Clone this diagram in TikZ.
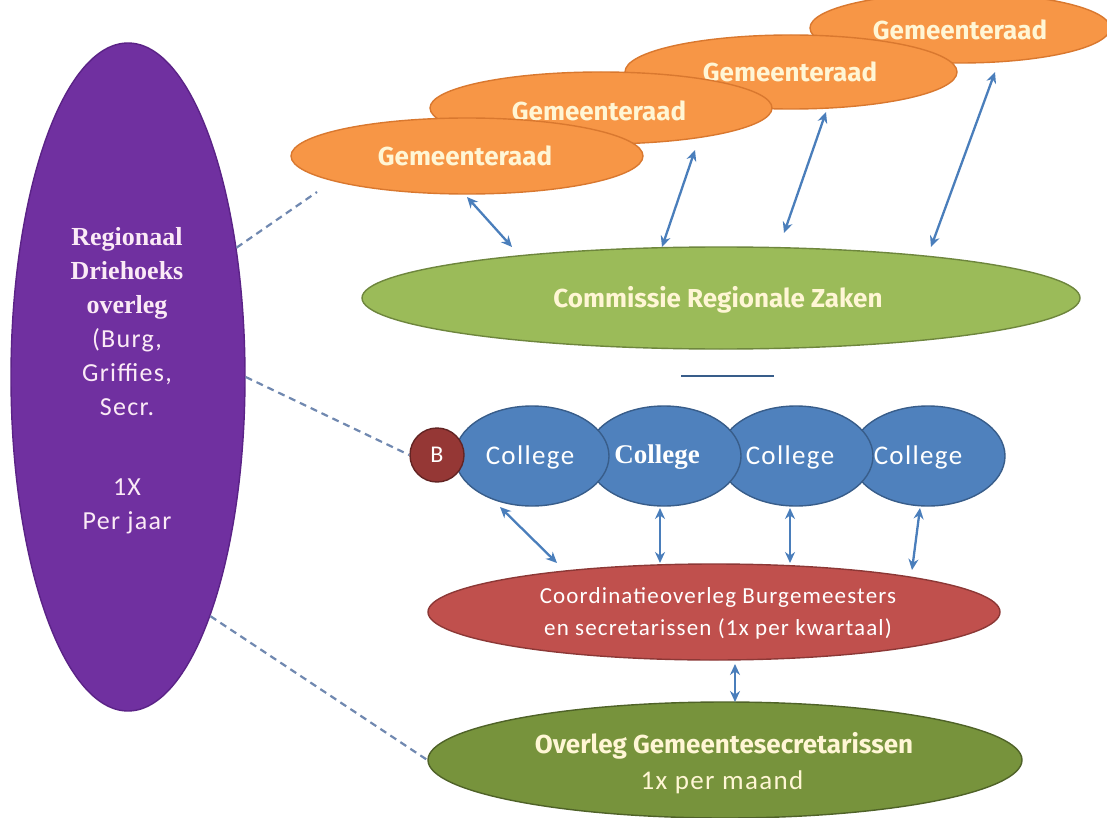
\documentclass[tikz,border=0pt]{standalone}
\usepackage{fontspec}
\setmainfont{Carlito}
\newfontfamily\fira{Fira Sans}
\newfontfamily\serifb{Liberation Serif}
\newfontfamily\carl[LetterSpace=5]{Carlito}
\usetikzlibrary{shapes.geometric,arrows.meta}
\definecolor{purplefill}{HTML}{7030A0}
\definecolor{purpleline}{HTML}{5B2387}
\definecolor{orangefill}{HTML}{F79646}
\definecolor{orangeline}{HTML}{D9782F}
\definecolor{greenfill}{HTML}{9BBB59}
\definecolor{greenline}{HTML}{6E863D}
\definecolor{bluefill}{HTML}{4F81BD}
\definecolor{blueline}{HTML}{385D8A}
\definecolor{redfill}{HTML}{C0504D}
\definecolor{redline}{HTML}{8C3836}
\definecolor{dgreenfill}{HTML}{77933C}
\definecolor{dgreenline}{HTML}{4F6228}
\definecolor{bfill}{HTML}{953735}
\definecolor{bline}{HTML}{632423}
\definecolor{arrowblue}{HTML}{4A7EBB}
\definecolor{dashblue}{HTML}{7088B0}
\definecolor{cream}{HTML}{FFF6D5}
\definecolor{ptext}{HTML}{FBEAF6}
\tikzset{
  oval/.style={ellipse, draw, line width=1.4pt, inner sep=0pt},
  twoway/.style={{Stealth[length=11pt,width=10pt]}-{Stealth[length=11pt,width=10pt]}, draw=arrowblue, line width=2.3pt},
  link/.style={draw=dashblue, dash pattern=on 7pt off 5pt, line width=2.2pt},
  ovaltext/.style={align=center, inner sep=0pt},
}
\begin{document}
\begin{tikzpicture}[x=1pt,y=-1pt]
\useasboundingbox (0,0) rectangle (1107,818);
\clip (0,0) rectangle (1107,818);
\fill[white] (0,0) rectangle (1107,818);

% purple
\node[oval, fill=purplefill, draw=purpleline, minimum width=234pt, minimum height=668pt] (P) at (128,377) {};
\node[ovaltext, text=ptext, font=\fontsize{26}{34}\selectfont] (Pt) at (127,381)
  {{\serifb\bfseries Regionaal}\\{\serifb\bfseries Driehoeks}\\{\serifb\bfseries overleg}\\
   {\carl (Burg,}\\{\carl Griffies,}\\{\carl Secr.}\\[46pt]{\carl 1X}\\{\carl Per jaar}};

% gemeenteraden (back to front)
\node[oval, fill=orangefill, draw=orangeline, minimum width=300pt, minimum height=70pt] (G4) at (960,28) {};
\node[ovaltext, text=cream, font=\fira\bfseries\fontsize{26}{30}\selectfont] (G4t) at (960,30) {Gemeenteraad};
\node[oval, fill=orangefill, draw=orangeline, minimum width=332pt, minimum height=74pt] (G3) at (791,72) {};
\node[ovaltext, text=cream, font=\fira\bfseries\fontsize{26}{30}\selectfont] (G3t) at (790,72) {Gemeenteraad};
\node[oval, fill=orangefill, draw=orangeline, minimum width=342pt, minimum height=72pt] (G2) at (601,108) {};
\node[ovaltext, text=cream, font=\fira\bfseries\fontsize{26}{30}\selectfont] (G2t) at (599,111) {Gemeenteraad};
\node[oval, fill=orangefill, draw=orangeline, minimum width=352pt, minimum height=76pt] (G1) at (467,156) {};
\node[ovaltext, text=cream, font=\fira\bfseries\fontsize{26}{30}\selectfont] (G1t) at (465,156) {Gemeenteraad};

% commissie
\node[oval, fill=greenfill, draw=greenline, minimum width=718pt, minimum height=102pt] (CRZ) at (721,298) {};
\node[ovaltext, text=cream, font=\fira\bfseries\fontsize{26}{30}\selectfont] (CRZt) at (718,300) {Commissie Regionale Zaken};

% short line
\coordinate (l1) at (681,376);
\coordinate (l2) at (774,376);
\draw[draw=blueline, line width=1.8pt] (l1) -- (l2);

% colleges (right to left, C1 on top)
\node[oval, fill=bluefill, draw=blueline, minimum width=154pt, minimum height=100pt] (C4) at (928,456) {};
\node[oval, fill=bluefill, draw=blueline, minimum width=154pt, minimum height=100pt] (C3) at (796,456) {};
\node[oval, fill=bluefill, draw=blueline, minimum width=154pt, minimum height=100pt] (C2) at (664,456) {};
\node[oval, fill=bluefill, draw=blueline, minimum width=154pt, minimum height=100pt] (C1) at (532,456) {};
\node[ovaltext, text=white, font=\carl\fontsize{27}{30}\selectfont] (C1t) at (530,457) {College};
\node[ovaltext, text=white, font=\serifb\bfseries\fontsize{27}{30}\selectfont] (C2t) at (657,457) {College};
\node[ovaltext, text=white, font=\carl\fontsize{27}{30}\selectfont] (C3t) at (790,457) {College};
\node[ovaltext, text=white, font=\carl\fontsize{27}{30}\selectfont] (C4t) at (918,457) {College};
\node[circle, draw=bline, fill=bfill, line width=1.4pt, minimum size=54pt, inner sep=0pt, text=white, font=\carl\fontsize{24}{28}\selectfont] (B) at (437,455) {B};

% coordinatieoverleg
\node[oval, fill=redfill, draw=redline, minimum width=572pt, minimum height=96pt] (R) at (714,612) {};
\node[ovaltext, text=white, font=\carl\fontsize{23}{32}\selectfont] (Rt) at (718,613)
  {Coordinatieoverleg Burgemeesters\\en secretarissen (1x per kwartaal)};

% overleg gemeentesecretarissen
\node[oval, fill=dgreenfill, draw=dgreenline, minimum width=594pt, minimum height=116pt] (O) at (725,760) {};
\node[ovaltext, text=cream, font=\fira\bfseries\fontsize{26}{30}\selectfont] (Ot1) at (724,746) {Overleg Gemeentesecretarissen};
\node[ovaltext, text=cream, font=\carl\fontsize{27}{30}\selectfont] (Ot2) at (722,782) {1x per maand};

% arrow end points
\coordinate (a1s) at (467,197); \coordinate (a1e) at (512,247);
\coordinate (a2s) at (695,150); \coordinate (a2e) at (662,247);
\coordinate (a3s) at (826,112); \coordinate (a3e) at (784,233);
\coordinate (a4s) at (995,72);  \coordinate (a4e) at (931,247);
\coordinate (b1s) at (500,507); \coordinate (b1e) at (557,563);
\coordinate (b2s) at (660,508); \coordinate (b2e) at (660,563);
\coordinate (b3s) at (790,508); \coordinate (b3e) at (790,563);
\coordinate (b4s) at (920,508); \coordinate (b4e) at (912,570);
\coordinate (c1s) at (735,664); \coordinate (c1e) at (735,702);
\draw[twoway] (a1s) -- (a1e);
\draw[twoway] (a2s) -- (a2e);
\draw[twoway] (a3s) -- (a3e);
\draw[twoway] (a4s) -- (a4e);
\draw[twoway] (b1s) -- (b1e);
\draw[twoway] (b2s) -- (b2e);
\draw[twoway] (b3s) -- (b3e);
\draw[twoway] (b4s) -- (b4e);
\draw[twoway] (c1s) -- (c1e);

% dashed links from the purple ellipse
\coordinate (d1e) at (317,192);
\draw[link] (P.50) -- (d1e);
\draw[link] (P.east) -- (B.west);
\draw[link] (P.-71) -- (O.west);
\end{tikzpicture}
\end{document}
